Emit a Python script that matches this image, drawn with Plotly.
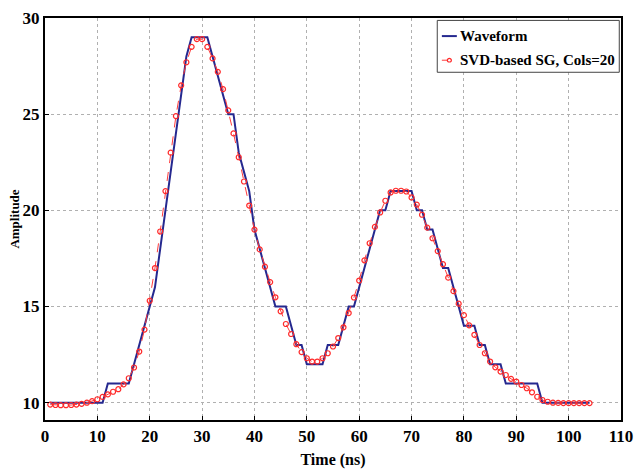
import plotly.graph_objects as go

# Sample times (ns)
time_ns = list(range(1, 105))

# Quantised waveform samples
waveform = [
    10, 10, 10, 10, 10, 10, 10, 10, 10, 10,
    10, 11, 11, 11, 11, 11, 12, 13, 14, 15,
    16, 18, 20, 22, 24, 26, 28, 29, 29, 29,
    29, 28, 27, 26, 25, 25, 23, 22, 21, 19,
    18, 17, 16, 15, 15, 15, 14, 13, 13, 12,
    12, 12, 12, 13, 13, 13, 14, 15, 15, 16,
    17, 18, 19, 20, 20, 21, 21, 21, 21, 21,
    20, 20, 19, 19, 18, 17, 17, 16, 15, 14,
    14, 14, 13, 13, 12, 12, 12, 11, 11, 11,
    11, 11, 11, 11, 10, 10, 10, 10, 10, 10,
    10, 10, 10, 10,
]

# SVD-based Savitzky-Golay smoothed output
svd_sg = [
    9.90, 9.88, 9.87, 9.87, 9.88, 9.90, 9.94, 10.00, 10.08, 10.18,
    10.30, 10.43, 10.57, 10.70, 10.95, 11.27, 11.83, 12.66, 13.80, 15.30,
    17.00, 18.90, 21.00, 23.00, 24.90, 26.50, 27.70, 28.50, 28.90, 28.90,
    28.50, 27.90, 27.20, 26.30, 25.20, 24.00, 22.76, 21.50, 20.25, 19.00,
    17.97, 17.07, 16.27, 15.48, 14.75, 14.09, 13.57, 13.04, 12.63, 12.31,
    12.14, 12.14, 12.31, 12.57, 12.92, 13.36, 13.92, 14.66, 15.47, 16.35,
    17.40, 18.29, 19.14, 19.89, 20.50, 20.93, 21.02, 21.02, 20.98, 20.67,
    20.30, 19.77, 19.10, 18.55, 17.88, 17.20, 16.50, 15.80, 15.15, 14.55,
    14.02, 13.53, 13.00, 12.57, 12.14, 11.84, 11.62, 11.44, 11.24, 11.10,
    10.92, 10.75, 10.54, 10.31, 10.14, 10.05, 10.00, 9.99, 9.98, 9.98,
    9.98, 9.98, 9.98, 9.98,
]

x_ticks = [0, 10, 20, 30, 40, 50, 60, 70, 80, 90, 100, 110]
y_ticks = [10, 15, 20, 25, 30]

series_names = ["Waveform", "SVD-based SG, Cols=20"]

serif = "Liberation Serif, Times New Roman, serif"
blue = "#25288f"
red = "#ff3b3b"

fig = go.Figure()
fig.add_trace(go.Scatter(
    x=time_ns, y=waveform, mode="lines", name=series_names[0],
    line=dict(color=blue, width=2), showlegend=False,
))
fig.add_trace(go.Scatter(
    x=time_ns, y=svd_sg, mode="lines+markers", name=series_names[1],
    line=dict(color=red, width=1, dash="dash"),
    marker=dict(symbol="circle-open", size=5, color="#ff2a2a", line=dict(width=1.2)),
    showlegend=False,
))

axis_common = dict(
    showline=True, linecolor="black", linewidth=2, mirror=True,
    showgrid=True, gridcolor="#b0b0b0", griddash="dot", gridwidth=1,
    ticks="inside", ticklen=4, tickcolor="black",
    zeroline=False, automargin=False,
    tickfont=dict(family=serif, size=17, color="black", weight="bold"),
)

fig.update_xaxes(
    range=[0, 110], tickvals=x_ticks,
    title=dict(text="<b>Time (ns)</b>", font=dict(family=serif, size=16, color="black"), standoff=8),
    **axis_common,
)
fig.update_yaxes(
    range=[9.1, 30], tickvals=y_ticks,
    title=dict(text="<b>Amplitude</b>", font=dict(family=serif, size=13, color="black"), standoff=0),
    **axis_common,
)

# Legend box drawn in paper coordinates (compact line samples)
lx0, lx1, ly0, ly1 = 0.681, 0.997, 0.865, 0.994
shapes = [
    dict(type="rect", xref="paper", yref="paper", x0=lx0, x1=lx1, y0=ly0, y1=ly1,
         line=dict(color="#444444", width=1), fillcolor="white", layer="above"),
    dict(type="line", xref="paper", yref="paper", x0=0.689, x1=0.715, y0=0.955, y1=0.955,
         line=dict(color=blue, width=2), layer="above"),
    dict(type="line", xref="paper", yref="paper", x0=0.689, x1=0.715, y0=0.895, y1=0.895,
         line=dict(color=red, width=1, dash="dash"), layer="above"),
    dict(type="circle", xref="paper", yref="paper", x0=0.6985, x1=0.7055, y0=0.8905, y1=0.8995,
         line=dict(color="#ff2a2a", width=1.2), fillcolor="white", layer="above"),
]
annotations = [
    dict(xref="paper", yref="paper", x=0.717, y=0.955, xanchor="left", yanchor="middle",
         text="<b>" + series_names[0] + "</b>", showarrow=False,
         font=dict(family=serif, size=15, color="black")),
    dict(xref="paper", yref="paper", x=0.717, y=0.895, xanchor="left", yanchor="middle",
         text="<b>" + series_names[1] + "</b>", showarrow=False,
         font=dict(family=serif, size=15, color="black")),
]

fig.update_layout(
    width=642, height=473,
    margin=dict(l=45, r=21, t=18, b=53),
    paper_bgcolor="white", plot_bgcolor="white",
    showlegend=False,
    shapes=shapes, annotations=annotations,
)

fig.write_html("out.html")
